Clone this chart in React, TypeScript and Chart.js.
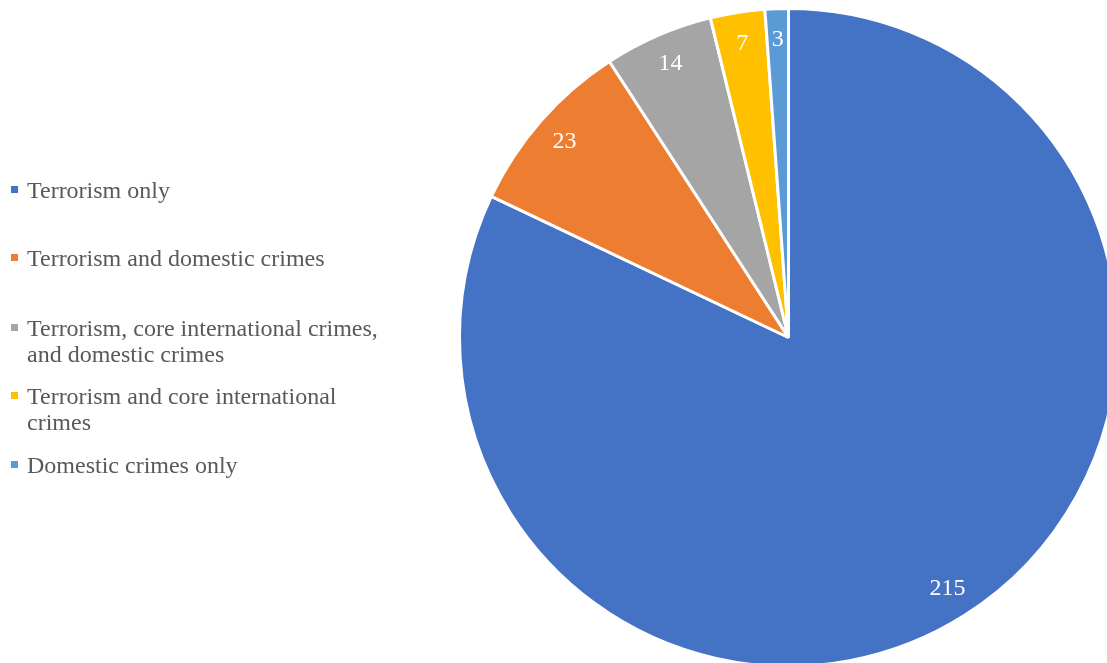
import React, { useEffect, useRef } from "react";
import { Chart, registerables } from "chart.js";

Chart.register(...registerables);

const categories = [
  "Terrorism only",
  "Terrorism and domestic crimes",
  "Terrorism, core international crimes, and domestic crimes",
  "Terrorism and core international crimes",
  "Domestic crimes only",
];
const legendLines = [
  ["Terrorism only"],
  ["Terrorism and domestic crimes"],
  ["Terrorism, core international crimes,", "and domestic crimes"],
  ["Terrorism and core international", "crimes"],
  ["Domestic crimes only"],
];
const values = [215, 23, 14, 7, 3];
const colors = ["#4472C4", "#ED7D31", "#A5A5A5", "#FFC000", "#5B9BD5"];

// layout only
const legendTops = [177, 245, 315, 383, 452];
const FONT = '"Liberation Serif", "Times New Roman", serif';

const labelPlugin = {
  id: "sliceLabels",
  afterDatasetsDraw(chart: any) {
    const ctx = chart.ctx;
    const meta = chart.getDatasetMeta(0);
    ctx.save();
    ctx.font = `24px ${FONT}`;
    ctx.fillStyle = "#FFFFFF";
    ctx.textAlign = "center";
    ctx.textBaseline = "middle";
    meta.data.forEach((arc: any, i: number) => {
      const p = arc.getProps(["x", "y", "startAngle", "endAngle", "outerRadius"], true);
      const mid = (p.startAngle + p.endAngle) / 2;
      const r = p.outerRadius * 0.905;
      ctx.fillText(String(values[i]), p.x + Math.cos(mid) * r, p.y + Math.sin(mid) * r);
    });
    ctx.restore();
  },
};

export default function App() {
  const ref = useRef<HTMLCanvasElement>(null);
  useEffect(() => {
    if (!ref.current) return;
    const chart = new Chart(ref.current, {
      type: "pie",
      data: {
        labels: categories,
        datasets: [
          {
            data: values,
            backgroundColor: colors,
            borderColor: "#FFFFFF",
            borderWidth: 3,
          },
        ],
      },
      options: {
        responsive: false,
        animation: false,
        layout: { padding: { left: 458, top: 7, right: 21, bottom: 12 } },
        plugins: {
          legend: { display: false },
          tooltip: { enabled: false },
        },
      },
      plugins: [labelPlugin],
    });
    return () => chart.destroy();
  }, []);

  return (
    <div
      style={{
        position: "fixed",
        left: 0,
        top: 0,
        width: 1107,
        height: 663,
        overflow: "hidden",
        background: "#FFFFFF",
      }}
    >
      <canvas ref={ref} width={1140} height={680} style={{ position: "absolute", left: 0, top: 0 }} />
      {legendLines.map((lines, i) => (
        <div
          key={i}
          style={{
            position: "absolute",
            left: 10,
            top: legendTops[i],
            fontFamily: FONT,
            fontSize: 24,
            lineHeight: "26px",
            color: "#595959",
            whiteSpace: "nowrap",
          }}
        >
          <span
            style={{
              position: "absolute",
              left: 1,
              top: 9,
              width: 7,
              height: 7,
              background: colors[i],
            }}
          />
          <div style={{ marginLeft: 17 }}>
            {lines.map((l, j) => (
              <div key={j}>{l}</div>
            ))}
          </div>
        </div>
      ))}
    </div>
  );
}
